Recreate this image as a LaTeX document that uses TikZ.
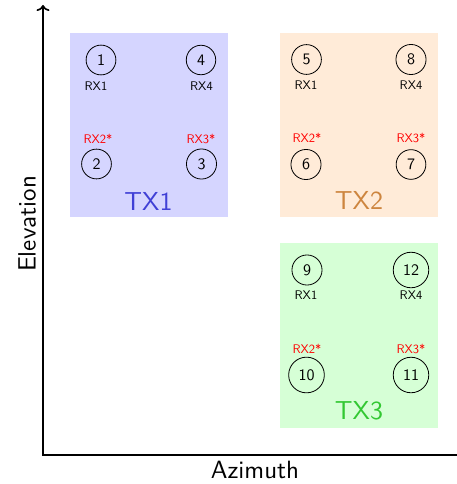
\documentclass[tikz,border=0pt]{standalone}
\usepackage{fontspec}
\setsansfont{lmsans10-regular.otf}
\usetikzlibrary{arrows.meta}
\definecolor{bluefill}{RGB}{213,213,255}
\definecolor{orangefill}{RGB}{255,235,216}
\definecolor{greenfill}{RGB}{214,255,214}
\definecolor{bluetext}{RGB}{64,64,214}
\definecolor{orangetext}{RGB}{205,133,63}
\definecolor{greentext}{RGB}{50,200,50}
\tikzset{
  ant/.style={circle, draw, line width=0.8pt, inner sep=5.8pt, font=\sffamily\fontsize{16}{16}\selectfont},
  rxlab/.style={font=\sffamily\fontsize{12.5}{12.5}\selectfont, inner sep=0pt},
  rxstar/.style={rxlab, text=red},
  txlab/.style={font=\sffamily\fontsize{26}{26}\selectfont, inner sep=0pt},
  axis/.style={line width=1.7pt},
  axlab/.style={font=\sffamily\fontsize{25}{25}\selectfont, inner sep=0pt}
}
\begin{document}
\begin{tikzpicture}[x=1pt,y=-1pt]
\useasboundingbox (0,0) rectangle (457,484);
% boxes
\fill[bluefill] (70,33) rectangle (228,217);
\fill[orangefill] (280,33) rectangle (438,217);
\fill[greenfill] (280,243) rectangle (438,428);
% axes
\coordinate (o) at (43,455);
\coordinate (ytop) at (43,5);
\coordinate (xend) at (457,455);
\draw[axis,-{To[length=6pt,width=13pt]}] (o) -- (ytop);
\draw[axis] ([xshift=-0.85pt]o) -- (xend);
\node[axlab, rotate=90] (elev) at (27,224) {Elevation};
\node[axlab] (azi) at (255,470) {Azimuth};
% TX1
\node[ant] (c1) at (101,60) {1};
\node[ant] (c4) at (201,60) {4};
\node[ant] (c2) at (96.5,164) {2};
\node[ant] (c3) at (201.5,164) {3};
\node[rxlab] (l1) at (96,86) {RX1};
\node[rxlab] (l4) at (201.5,86) {RX4};
\node[rxstar] (l2) at (98,138.5) {RX2*};
\node[rxstar] (l3) at (201,138.5) {RX3*};
\node[txlab, text=bluetext] (t1) at (148.5,201) {TX1};
% TX2
\node[ant] (c5) at (306.5,59.5) {5};
\node[ant] (c8) at (411,59.5) {8};
\node[ant] (c6) at (306,164.5) {6};
\node[ant] (c7) at (411,164.5) {7};
\node[rxlab] (l5) at (306,85.5) {RX1};
\node[rxlab] (l8) at (411,85.5) {RX4};
\node[rxstar] (l6) at (307,138) {RX2*};
\node[rxstar] (l7) at (411,138) {RX3*};
\node[txlab, text=orangetext] (t2) at (359,200.5) {TX2};
% TX3
\node[ant] (c9) at (307,270) {9};
\node[ant] (c12) at (411,270) {12};
\node[ant] (c10) at (306.5,375) {10};
\node[ant] (c11) at (411,375) {11};
\node[rxlab] (l9) at (306,295.5) {RX1};
\node[rxlab] (l12) at (411,295.5) {RX4};
\node[rxstar] (l10) at (307,348.5) {RX2*};
\node[rxstar] (l11) at (411,348.5) {RX3*};
\node[txlab, text=greentext] (t3) at (359,411) {TX3};
\end{tikzpicture}
\end{document}
